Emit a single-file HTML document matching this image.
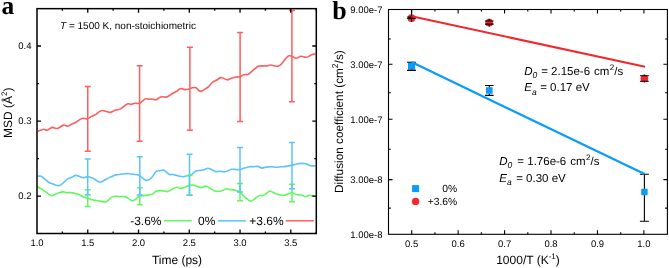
<!DOCTYPE html>
<html><head><meta charset="utf-8"><style>
html,body{margin:0;padding:0;background:#fff;width:669px;height:268px;overflow:hidden}
body{position:relative}
</style></head><body>
<svg width="669" height="268" viewBox="0 0 669 268" style="position:absolute;left:0;top:0;will-change:transform" text-rendering="geometricPrecision"><g fill="none" stroke-width="1.6" stroke-linejoin="round"><path d="M37.50 186.60C38.12 186.98 39.83 188.02 41.20 188.90C42.57 189.78 44.08 190.78 45.70 191.90C47.32 193.02 49.53 195.10 50.90 195.60C52.27 196.10 52.65 195.32 53.90 194.90C55.15 194.48 56.90 193.60 58.40 193.10C59.90 192.60 61.53 191.98 62.90 191.90C64.27 191.82 65.23 192.48 66.60 192.60C67.97 192.72 69.53 192.42 71.10 192.60C72.67 192.78 74.57 193.32 76.00 193.70C77.43 194.08 78.33 194.33 79.70 194.90C81.07 195.47 82.70 196.48 84.20 197.10C85.70 197.72 87.08 198.10 88.70 198.60C90.32 199.10 92.03 199.68 93.90 200.10C95.77 200.52 98.03 200.78 99.90 201.10C101.77 201.42 103.73 202.10 105.10 202.00C106.47 201.90 106.98 201.32 108.10 200.50C109.22 199.68 110.48 197.80 111.80 197.10C113.12 196.40 114.55 196.38 116.00 196.30C117.45 196.22 119.00 196.55 120.50 196.60C122.00 196.65 123.63 196.27 125.00 196.60C126.37 196.93 127.47 197.90 128.70 198.60C129.93 199.30 131.17 200.73 132.40 200.80C133.63 200.87 134.98 199.75 136.10 199.00C137.22 198.25 137.85 196.87 139.10 196.30C140.35 195.73 142.10 195.80 143.60 195.60C145.10 195.40 146.60 195.35 148.10 195.10C149.60 194.85 151.28 194.73 152.60 194.10C153.92 193.47 154.68 191.88 156.00 191.30C157.32 190.72 159.13 190.65 160.50 190.60C161.87 190.55 162.97 190.83 164.20 191.00C165.43 191.17 166.53 191.92 167.90 191.60C169.27 191.28 170.90 189.83 172.40 189.10C173.90 188.37 175.53 187.32 176.90 187.20C178.27 187.08 179.23 188.40 180.60 188.40C181.97 188.40 183.60 187.70 185.10 187.20C186.60 186.70 188.23 185.75 189.60 185.40C190.97 185.05 192.23 185.02 193.30 185.10C194.37 185.18 194.68 185.48 196.00 185.90C197.32 186.32 199.58 187.57 201.20 187.60C202.82 187.63 204.20 185.97 205.70 186.10C207.20 186.23 208.70 187.58 210.20 188.40C211.70 189.22 213.08 190.52 214.70 191.00C216.32 191.48 218.42 191.48 219.90 191.30C221.38 191.12 222.48 190.33 223.60 189.90C224.72 189.47 225.48 188.75 226.60 188.70C227.72 188.65 229.18 189.40 230.30 189.60C231.42 189.80 232.35 189.73 233.30 189.90C234.25 190.07 234.85 190.20 236.00 190.60C237.15 191.00 238.80 191.30 240.20 192.30C241.60 193.30 243.13 195.40 244.40 196.60C245.67 197.80 246.68 198.73 247.80 199.50C248.92 200.27 249.85 201.40 251.10 201.20C252.35 201.00 253.90 199.23 255.30 198.30C256.70 197.37 258.23 196.05 259.50 195.60C260.77 195.15 261.77 195.93 262.90 195.60C264.03 195.27 265.18 194.35 266.30 193.60C267.42 192.85 268.48 191.32 269.60 191.10C270.72 190.88 271.93 191.85 273.00 192.30C274.07 192.75 274.80 193.35 276.00 193.80C277.20 194.25 278.80 194.75 280.20 195.00C281.60 195.25 283.00 195.52 284.40 195.30C285.80 195.08 287.33 194.12 288.60 193.70C289.87 193.28 290.73 192.67 292.00 192.80C293.27 192.93 294.67 194.13 296.20 194.50C297.73 194.87 299.67 194.63 301.20 195.00C302.73 195.37 304.00 196.65 305.40 196.70C306.80 196.75 308.20 195.38 309.60 195.30C311.00 195.22 312.80 196.05 313.80 196.20C314.80 196.35 315.30 196.20 315.60 196.20" stroke="#5ff85f"/><path d="M37.50 176.20C38.12 176.20 39.95 175.70 41.20 176.20C42.45 176.70 43.75 178.20 45.00 179.20C46.25 180.20 47.33 181.38 48.70 182.20C50.07 183.02 51.72 183.53 53.20 184.10C54.68 184.67 56.37 185.43 57.60 185.60C58.83 185.77 59.60 185.60 60.60 185.10C61.60 184.60 62.48 183.58 63.60 182.60C64.72 181.62 65.93 180.10 67.30 179.20C68.67 178.30 70.35 177.83 71.80 177.20C73.25 176.57 74.68 175.50 76.00 175.40C77.32 175.30 78.45 176.22 79.70 176.60C80.95 176.98 82.13 177.70 83.50 177.70C84.87 177.70 86.42 176.53 87.90 176.60C89.38 176.67 90.90 177.42 92.40 178.10C93.90 178.78 95.65 180.02 96.90 180.70C98.15 181.38 98.78 182.20 99.90 182.20C101.02 182.20 102.23 181.38 103.60 180.70C104.97 180.02 106.60 178.85 108.10 178.10C109.60 177.35 111.28 176.73 112.60 176.20C113.92 175.67 114.68 175.22 116.00 174.90C117.32 174.58 119.00 174.50 120.50 174.30C122.00 174.10 123.52 173.80 125.00 173.70C126.48 173.60 127.92 173.60 129.40 173.70C130.88 173.80 132.40 174.07 133.90 174.30C135.40 174.53 137.03 174.53 138.40 175.10C139.77 175.67 140.85 176.85 142.10 177.70C143.35 178.55 144.78 179.83 145.90 180.20C147.02 180.57 147.68 180.50 148.80 179.90C149.92 179.30 151.40 178.00 152.60 176.60C153.80 175.20 154.82 172.48 156.00 171.50C157.18 170.52 158.45 170.93 159.70 170.70C160.95 170.47 162.38 169.85 163.50 170.10C164.62 170.35 165.42 171.47 166.40 172.20C167.38 172.93 168.27 174.12 169.40 174.50C170.53 174.88 171.83 174.30 173.20 174.50C174.57 174.70 175.98 175.33 177.60 175.70C179.22 176.07 181.40 176.70 182.90 176.70C184.40 176.70 185.37 175.95 186.60 175.70C187.83 175.45 189.18 175.63 190.30 175.20C191.42 174.77 192.35 173.80 193.30 173.10C194.25 172.40 194.80 171.45 196.00 171.00C197.20 170.55 199.13 170.62 200.50 170.40C201.87 170.18 202.97 170.07 204.20 169.70C205.43 169.33 206.65 168.20 207.90 168.20C209.15 168.20 210.33 169.13 211.70 169.70C213.07 170.27 214.73 171.35 216.10 171.60C217.47 171.85 218.52 171.15 219.90 171.20C221.28 171.25 223.03 171.98 224.40 171.90C225.77 171.82 226.87 171.13 228.10 170.70C229.33 170.27 230.48 169.50 231.80 169.30C233.12 169.10 234.60 169.43 236.00 169.50C237.40 169.57 238.80 169.93 240.20 169.70C241.60 169.47 242.87 168.60 244.40 168.10C245.93 167.60 247.87 166.93 249.40 166.70C250.93 166.47 252.20 166.75 253.60 166.70C255.00 166.65 256.40 166.17 257.80 166.40C259.20 166.63 260.58 167.98 262.00 168.10C263.42 168.22 264.75 167.33 266.30 167.10C267.85 166.87 269.68 166.68 271.30 166.70C272.92 166.72 274.38 167.18 276.00 167.20C277.62 167.22 279.32 166.93 281.00 166.80C282.68 166.67 284.42 166.63 286.10 166.40C287.78 166.17 289.42 165.77 291.10 165.40C292.78 165.03 294.52 164.53 296.20 164.20C297.88 163.87 299.67 163.48 301.20 163.40C302.73 163.32 304.00 163.37 305.40 163.70C306.80 164.03 308.20 165.03 309.60 165.40C311.00 165.77 312.80 165.82 313.80 165.90C314.80 165.98 315.30 165.90 315.60 165.90" stroke="#5cc4fa"/><path d="M37.70 131.30C38.17 131.12 39.48 130.53 40.50 130.20C41.52 129.87 42.68 129.30 43.80 129.30C44.92 129.30 45.80 130.52 47.20 130.20C48.60 129.88 50.52 127.68 52.20 127.40C53.88 127.12 55.42 128.88 57.30 128.50C59.18 128.12 61.73 125.48 63.50 125.10C65.27 124.72 66.50 126.38 67.90 126.20C69.30 126.02 70.55 124.67 71.90 124.00C73.25 123.33 74.75 122.88 76.00 122.20C77.25 121.52 78.28 120.55 79.40 119.90C80.52 119.25 81.40 118.48 82.70 118.30C84.00 118.12 85.70 119.13 87.20 118.80C88.70 118.47 90.30 117.00 91.70 116.30C93.10 115.60 94.48 115.25 95.60 114.60C96.72 113.95 97.37 113.08 98.40 112.40C99.43 111.72 100.58 110.70 101.80 110.50C103.02 110.30 104.30 110.88 105.70 111.20C107.10 111.52 108.90 112.45 110.20 112.40C111.50 112.35 112.53 111.30 113.50 110.90C114.47 110.50 114.83 110.33 116.00 110.00C117.17 109.67 119.10 109.57 120.50 108.90C121.90 108.23 123.18 106.85 124.40 106.00C125.62 105.15 126.68 104.07 127.80 103.80C128.92 103.53 129.90 104.48 131.10 104.40C132.30 104.32 133.60 103.48 135.00 103.30C136.40 103.12 138.18 103.73 139.50 103.30C140.82 102.87 141.87 101.45 142.90 100.70C143.93 99.95 144.58 99.03 145.70 98.80C146.82 98.57 148.48 99.27 149.60 99.30C150.72 99.33 151.33 98.92 152.40 99.00C153.47 99.08 154.83 100.05 156.00 99.80C157.17 99.55 158.28 98.02 159.40 97.50C160.52 96.98 161.50 96.77 162.70 96.70C163.90 96.63 165.48 97.30 166.60 97.10C167.72 96.90 168.37 96.13 169.40 95.50C170.43 94.87 171.58 94.00 172.80 93.30C174.02 92.60 175.38 92.10 176.70 91.30C178.02 90.50 179.38 88.78 180.70 88.50C182.02 88.22 183.22 89.52 184.60 89.60C185.98 89.68 187.70 89.32 189.00 89.00C190.30 88.68 191.23 87.90 192.40 87.70C193.57 87.50 194.97 87.37 196.00 87.80C197.03 88.23 197.73 89.70 198.60 90.30C199.47 90.90 200.22 91.55 201.20 91.40C202.18 91.25 203.30 90.17 204.50 89.40C205.70 88.63 207.10 87.95 208.40 86.80C209.70 85.65 210.98 83.58 212.30 82.50C213.62 81.42 214.88 81.12 216.30 80.30C217.72 79.48 219.50 77.88 220.80 77.60C222.10 77.32 223.00 78.22 224.10 78.60C225.20 78.98 226.20 79.95 227.40 79.90C228.60 79.85 229.87 78.78 231.30 78.30C232.73 77.82 234.57 77.25 236.00 77.00C237.43 76.75 238.60 77.17 239.90 76.80C241.20 76.43 242.38 75.23 243.80 74.80C245.22 74.37 246.87 74.95 248.40 74.20C249.93 73.45 251.37 71.62 253.00 70.30C254.63 68.98 256.68 67.03 258.20 66.30C259.72 65.57 260.68 65.97 262.10 65.90C263.52 65.83 265.28 66.05 266.70 65.90C268.12 65.75 269.05 64.95 270.60 65.00C272.15 65.05 274.67 66.02 276.00 66.20C277.33 66.38 277.62 66.55 278.60 66.10C279.58 65.65 280.80 64.68 281.90 63.50C283.00 62.32 284.12 60.27 285.20 59.00C286.28 57.73 287.32 56.35 288.40 55.90C289.48 55.45 290.38 55.90 291.70 56.30C293.02 56.70 294.78 58.30 296.30 58.30C297.82 58.30 299.17 56.47 300.80 56.30C302.43 56.13 304.57 57.40 306.10 57.30C307.63 57.20 308.70 56.23 310.00 55.70C311.30 55.17 312.97 54.37 313.90 54.10C314.83 53.83 315.32 54.10 315.60 54.10" stroke="#fd5e5e"/></g><path d="M84.70 189.7H90.70M87.70 189.7V206.6M84.70 206.6H90.70" stroke="#5ff85f" stroke-width="1.5" fill="none"/><path d="M136.80 187.8H142.80M139.80 187.8V204.8M136.80 204.8H142.80" stroke="#5ff85f" stroke-width="1.5" fill="none"/><path d="M186.50 175.5H192.50M189.50 175.5V195.3M186.50 195.3H192.50" stroke="#5ff85f" stroke-width="1.5" fill="none"/><path d="M237.00 183.6H243.00M240.00 183.6V200.7M237.00 200.7H243.00" stroke="#5ff85f" stroke-width="1.5" fill="none"/><path d="M289.00 184.3H295.00M292.00 184.3V201.8M289.00 201.8H295.00" stroke="#5ff85f" stroke-width="1.5" fill="none"/><path d="M84.70 159H90.70M87.70 159V194.8M84.70 194.8H90.70" stroke="#5cc4fa" stroke-width="1.5" fill="none"/><path d="M136.80 156.7H142.80M139.80 156.7V194.9M136.80 194.9H142.80" stroke="#5cc4fa" stroke-width="1.5" fill="none"/><path d="M186.50 154.2H192.50M189.50 154.2V195.3M186.50 195.3H192.50" stroke="#5cc4fa" stroke-width="1.5" fill="none"/><path d="M237.00 147.6H243.00M240.00 147.6V192M237.00 192H243.00" stroke="#5cc4fa" stroke-width="1.5" fill="none"/><path d="M289.00 142.6H295.00M292.00 142.6V188.8M289.00 188.8H295.00" stroke="#5cc4fa" stroke-width="1.5" fill="none"/><path d="M84.75 86.6H90.75M87.75 86.6V151.2M84.75 151.2H90.75" stroke="#fd5e5e" stroke-width="1.5" fill="none"/><path d="M136.60 65.8H142.60M139.60 65.8V141.2M136.60 141.2H142.60" stroke="#fd5e5e" stroke-width="1.5" fill="none"/><path d="M186.90 47.3H192.90M189.90 47.3V130.3M186.90 130.3H192.90" stroke="#fd5e5e" stroke-width="1.5" fill="none"/><path d="M237.10 32.6H243.10M240.10 32.6V121.5M237.10 121.5H243.10" stroke="#fd5e5e" stroke-width="1.5" fill="none"/><path d="M288.90 10.6H294.90M291.90 10.6V101.8M288.90 101.8H294.90" stroke="#fd5e5e" stroke-width="1.5" fill="none"/><rect x="37" y="8.66" width="279.3" height="224.84" fill="none" stroke="#000" stroke-width="1.5"/><path d="M62.38 233.5v-2M62.38 8.66v2M87.76 233.5v-4M87.76 8.66v4M113.14 233.5v-2M113.14 8.66v2M138.52 233.5v-4M138.52 8.66v4M163.90 233.5v-2M163.90 8.66v2M189.28 233.5v-4M189.28 8.66v4M214.66 233.5v-2M214.66 8.66v2M240.04 233.5v-4M240.04 8.66v4M265.42 233.5v-2M265.42 8.66v2M290.80 233.5v-4M290.80 8.66v4M316.18 233.5v-2M316.18 8.66v2M37 196.20h4M316.3 196.20h-4M37 158.65h2M316.3 158.65h-2M37 121.10h4M316.3 121.10h-4M37 83.55h2M316.3 83.55h-2M37 46.00h4M316.3 46.00h-4" stroke="#000" stroke-width="1.3" fill="none"/><g font-family='"Liberation Sans", sans-serif' font-size="9.5" fill="#000" text-anchor="middle"><text x="37.0" y="245.8">1.0</text><text x="87.8" y="245.8">1.5</text><text x="138.5" y="245.8">2.0</text><text x="189.3" y="245.8">2.5</text><text x="240.0" y="245.8">3.0</text><text x="290.8" y="245.8">3.5</text></g><g font-family='"Liberation Sans", sans-serif' font-size="9.5" fill="#000" text-anchor="end"><text x="31.5" y="199.4">0.2</text><text x="31.5" y="124.3">0.3</text><text x="31.5" y="49.2">0.4</text></g><text x="177" y="263.8" font-family='"Liberation Sans", sans-serif' font-size="12" fill="#000" text-anchor="middle">Time (ps)</text><text transform="translate(12,112.8) rotate(-90)" font-family='"Liberation Sans", sans-serif' font-size="12" fill="#000" text-anchor="middle">MSD (Å<tspan dy="-5" font-size="8">2</tspan><tspan dy="5">)</tspan></text><text x="60" y="28.6" font-family='"Liberation Sans", sans-serif' font-size="10" fill="#000"><tspan font-style="italic">T</tspan> = 1500 K, non-stoichiometric</text><g font-family='"Liberation Sans", sans-serif' font-size="12" fill="#000"><text x="130.2" y="225.2">-3.6%</text><text x="198" y="225.2">0%</text><text x="249.3" y="225.2">+3.6%</text></g><path d="M164.1 220.7H191.7" stroke="#5ff85f" stroke-width="1.5"/><path d="M217.9 220.8H245.7" stroke="#5cc4fa" stroke-width="1.5"/><path d="M285.7 220.8H313.9" stroke="#fd5e5e" stroke-width="1.5"/><text x="1.5" y="13.6" font-family='Liberation Serif' font-weight="bold" font-size="25.5" fill="#000">a</text><text x="332.3" y="19.2" font-family='Liberation Serif' font-weight="bold" font-size="26" fill="#000">b</text><path d="M639.9 174.3H648.9M644.4 174.3V190M639.9 221.2H648.9M644.4 221.2V194" stroke="#000" stroke-width="1.1" fill="none"/><circle cx="411.5" cy="18.2" r="3.85" fill="#f3282d"/><circle cx="489.2" cy="22.65" r="3.85" fill="#f3282d"/><circle cx="644.4" cy="78.5" r="3.85" fill="#f3282d"/><rect x="408.00" y="62.60" width="7.2" height="7.2" fill="#0a9cf8"/><rect x="486.00" y="87.20" width="6.6" height="6.6" fill="#0a9cf8"/><rect x="641.20" y="188.80" width="6.4" height="6.4" fill="#0a9cf8"/><path d="M407.2 17H415.8M407.2 18.4H415.8M411.5 9.5V17M411.5 18.4V21.9M485 21H493.6M485 24.1H493.6M489.2 18.8V21M489.2 24.1V26.5M639.9 75.7H648.8M639.9 81.2H648.8M644.4 74.6V75.7M644.4 81.2V82.4M407 62.3H415.9M407 70.4H415.9M411.6 69.6V70.4M485 85.5H493.6M485 95.4H493.6M489.3 85.5V87.2M489.3 93.8V95.4" stroke="#000" stroke-width="1.1" fill="none"/><path d="M411.5 16.2L645 66.8" stroke="#f3282d" stroke-width="2.1"/><path d="M411.5 62.1L644.6 174.1" stroke="#0a9cf8" stroke-width="2.2"/><rect x="388.5" y="9.5" width="278.9" height="224.8" fill="none" stroke="#000" stroke-width="1.1"/><path d="M411.70 234.3v-4M411.70 9.5v4M434.92 234.3v-2M434.92 9.5v2M458.14 234.3v-4M458.14 9.5v4M481.36 234.3v-2M481.36 9.5v2M504.58 234.3v-4M504.58 9.5v4M527.80 234.3v-2M527.80 9.5v2M551.02 234.3v-4M551.02 9.5v4M574.24 234.3v-2M574.24 9.5v2M597.46 234.3v-4M597.46 9.5v4M620.68 234.3v-2M620.68 9.5v2M643.90 234.3v-4M643.90 9.5v4M388.5 64.31h4M667.4 64.31h-4M388.5 119.32h4M667.4 119.32h-4M388.5 179.61h4M667.4 179.61h-4M388.5 39.00h2.3M667.4 39.00h-2.3M388.5 92.80h2.3M667.4 92.80h-2.3M388.5 149.30h2.3M667.4 149.30h-2.3M388.5 208.10h2.3M667.4 208.10h-2.3" stroke="#000" stroke-width="1.1" fill="none"/><g font-family='"Liberation Sans", sans-serif' font-size="9.5" fill="#000" text-anchor="end"><text x="382.5" y="12.7">9.00e-7</text><text x="382.5" y="67.7">3.00e-7</text><text x="382.5" y="122.7">1.00e-7</text><text x="382.5" y="183.0">3.00e-8</text><text x="382.5" y="238.0">1.00e-8</text></g><g font-family='"Liberation Sans", sans-serif' font-size="9.5" fill="#000" text-anchor="middle"><text x="411.7" y="247">0.5</text><text x="458.1" y="247">0.6</text><text x="504.6" y="247">0.7</text><text x="551.0" y="247">0.8</text><text x="597.5" y="247">0.9</text><text x="643.9" y="247">1.0</text></g><text x="528" y="264.2" font-family='"Liberation Sans", sans-serif' font-size="12" fill="#000" text-anchor="middle">1000/T (K<tspan dy="-5.2" font-size="8">-1</tspan><tspan dy="5.2">)</tspan></text><text transform="translate(343,121.6) rotate(-90)" font-family='"Liberation Sans", sans-serif' font-size="11.8" fill="#000" text-anchor="middle">Diffusion coefficient (cm<tspan dy="-5" font-size="8.5">2</tspan><tspan dy="5">/s)</tspan></text><text x="524.3" y="74.6" font-family='"Liberation Sans", sans-serif' font-size="11.5" fill="#000"><tspan font-style="italic">D</tspan><tspan font-style="italic" font-size="8.5" dy="3.2">0</tspan><tspan dy="-3.2" dx="0.6"> = 2.15e-6 </tspan><tspan dx="0.8">cm</tspan><tspan dy="-4.6" dx="0.3" font-size="8">2</tspan><tspan dy="4.6" dx="0.2">/s</tspan></text><text x="524.3" y="91.4" font-family='"Liberation Sans", sans-serif' font-size="11.5" fill="#000"><tspan font-style="italic">E</tspan><tspan font-style="italic" font-size="8.5" dy="3.2">a</tspan><tspan dy="-3.2" dx="0.3"> = 0.17 eV</tspan></text><text x="499.3" y="164.9" font-family='"Liberation Sans", sans-serif' font-size="11.5" fill="#000"><tspan font-style="italic">D</tspan><tspan font-style="italic" font-size="8.5" dy="3.2">0</tspan><tspan dy="-3.2" dx="1.8"> = 1.76e-6 </tspan><tspan dx="0.8">cm</tspan><tspan dy="-4.6" dx="0.3" font-size="8">2</tspan><tspan dy="4.6" dx="0.2">/s</tspan></text><text x="499.3" y="182.2" font-family='"Liberation Sans", sans-serif' font-size="11.5" fill="#000"><tspan font-style="italic">E</tspan><tspan font-style="italic" font-size="8.5" dy="3.2">a</tspan><tspan dy="-3.2" dx="1.3"> = 0.30 eV</tspan></text><rect x="412.1" y="185.1" width="7" height="7" fill="#0a9cf8"/><circle cx="415.6" cy="201.4" r="3.7" fill="#f3282d"/><g font-family='"Liberation Sans", sans-serif' font-size="10.3" fill="#000" text-anchor="end"><text x="457.2" y="191.9">0%</text><text x="457.2" y="205.2">+3.6%</text></g></svg>
</body></html>
